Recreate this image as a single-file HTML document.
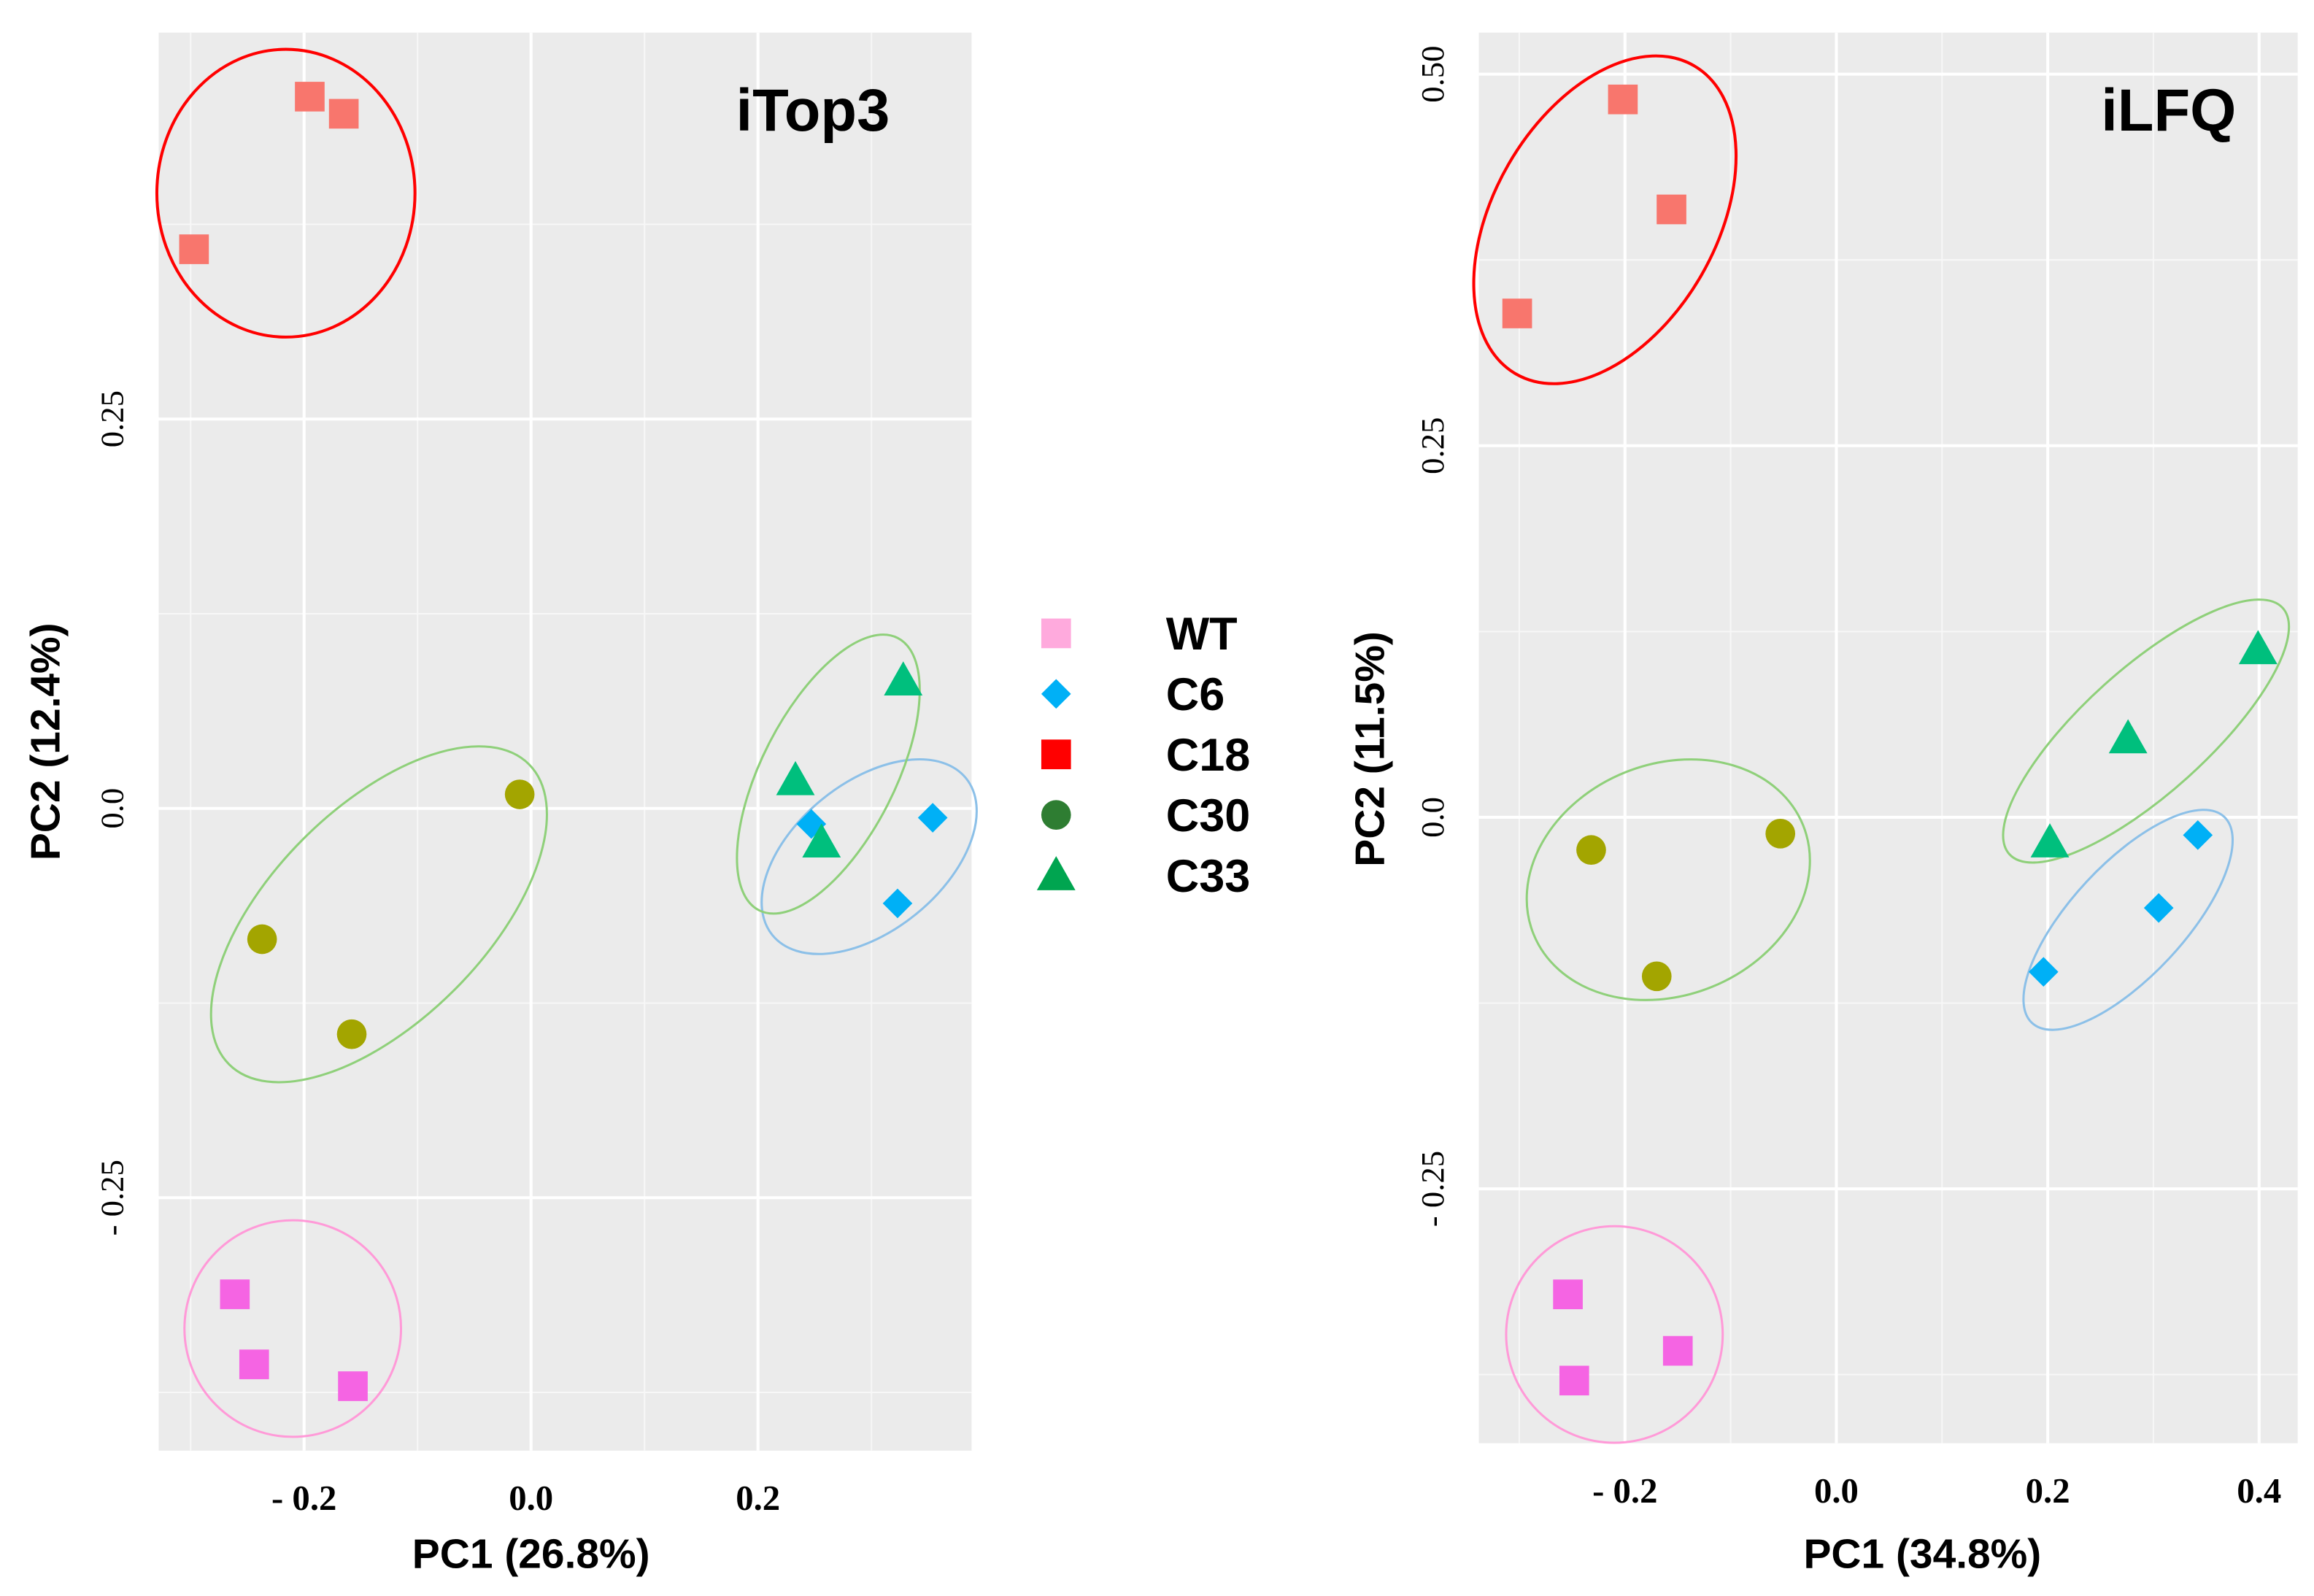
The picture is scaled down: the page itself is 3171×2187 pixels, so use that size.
<!DOCTYPE html>
<html><head><meta charset="utf-8"><style>
html,body{margin:0;padding:0;background:#fff}
svg{display:block}
text{font-family:"Liberation Sans",sans-serif}
</style></head><body>
<svg id="fig" width="3171" height="2187" viewBox="0 0 1560 1076" preserveAspectRatio="none" xmlns="http://www.w3.org/2000/svg"></svg>
<script>
// ---- Data: iTop3 (left panel) ----
const groups = ["WT","C6","C18","C30","C33"];
const top3_WT_x = [-0.261,-0.244,-0.157];
const top3_WT_y = [-0.312,-0.357,-0.371];
const top3_C6_x = [0.247,0.354,0.323];
const top3_C6_y = [-0.010,-0.006,-0.061];
const top3_C18_x = [-0.195,-0.165,-0.297];
const top3_C18_y = [0.457,0.446,0.359];
const top3_C30_x = [-0.010,-0.237,-0.158];
const top3_C30_y = [0.009,-0.084,-0.145];
const top3_C33_x = [0.328,0.233,0.256];
const top3_C33_y = [0.082,0.018,-0.022];
// ---- Data: iLFQ (right panel) ----
const lfq_WT_x = [-0.254,-0.248,-0.150];
const lfq_WT_y = [-0.321,-0.379,-0.359];
const lfq_C6_x = [0.342,0.305,0.196];
const lfq_C6_y = [-0.012,-0.061,-0.104];
const lfq_C18_x = [-0.202,-0.156,-0.302];
const lfq_C18_y = [0.483,0.409,0.339];
const lfq_C30_x = [-0.232,-0.053,-0.170];
const lfq_C30_y = [-0.022,-0.011,-0.107];
const lfq_C33_x = [0.399,0.276,0.202];
const lfq_C33_y = [0.113,0.053,-0.017];
// ellipse centres (data units)
const top3_ell_cx = [-0.210,0.298,-0.216,-0.134,0.262];
const top3_ell_cy = [-0.334,-0.031,0.395,-0.068,0.022];
const lfq_ell_cx = [-0.210,0.276,-0.219,-0.159,0.293];
const lfq_ell_cy = [-0.348,-0.069,0.402,-0.042,0.058];
// tick labels
const top3_xticks = [-0.2,0,0.2];
const top3_xticklabels = ["- 0.2","0.0","0.2"];
const top3_yticks = [-0.25,0,0.25];
const top3_yticklabels = ["- 0.25","0.0","0.25"];
const lfq_xticks = [-0.2,0,0.2,0.4];
const lfq_xticklabels = ["- 0.2","0.0","0.2","0.4"];
const lfq_yticks = [-0.25,0,0.25,0.5];
const lfq_yticklabels = ["- 0.25","0.0","0.25","0.50"];

const NS="http://www.w3.org/2000/svg";
const svg=document.getElementById('fig');
function mk(tag,attrs,parent){const e=document.createElementNS(NS,tag);for(const k in attrs)e.setAttribute(k,attrs[k]);(parent||svg).appendChild(e);return e;}
const colors={WT:"#f564e3",C6:"#00b0f6",C18:"#f8766d",C30:"#a3a500",C33:"#00bf7d"};
const ellColors={WT:"#ff9ad8",C6:"#8cc0e8",C18:"#ff0000",C30:"#8fd07a",C33:"#8fd07a"};

function marker(g,type,px,py,color){
  let e;
  if(type==="WT"||type==="C18"){e=mk('rect',{x:px-10,y:py-10,width:20,height:20,fill:color},g);}
  else if(type==="C6"){e=mk('polygon',{points:`${px},${py-10} ${px+10},${py} ${px},${py+10} ${px-10},${py}`,fill:color},g);}
  else if(type==="C30"){e=mk('ellipse',{cx:px,cy:py,rx:10,ry:10,fill:color},g);}
  else {e=mk('polygon',{points:`${px},${py-13} ${px+13},${py+10} ${px-13},${py+10}`,fill:color},g);}
  return e;
}

function panel(cfg){
  const g=mk('g',{});
  
  
  const X=v=>cfg.x0+cfg.sx*v, Y=v=>cfg.y0-cfg.sy*v;
  const bg=mk('rect',{x:cfg.L,y:cfg.T,width:cfg.R-cfg.L,height:cfg.B-cfg.T,fill:"#ebebeb"},g);
  
  
  cfg.xminor.forEach(v=>mk('line',{x1:X(v),x2:X(v),y1:cfg.T,y2:cfg.B,stroke:"#f7f7f7","stroke-width":1},g));
  cfg.yminor.forEach(v=>mk('line',{y1:Y(v),y2:Y(v),x1:cfg.L,x2:cfg.R,stroke:"#f7f7f7","stroke-width":1},g));
  cfg.xt.forEach((v,i)=>{
    mk('line',{x1:X(v),x2:X(v),y1:cfg.T,y2:cfg.B,stroke:"#fff","stroke-width":2},g);
    const t=mk('text',{x:X(v),y:cfg.B+40,"text-anchor":"middle","font-size":24,"font-weight":"bold",style:"font-family:'Liberation Serif',serif"},g);
    t.textContent=cfg.xl[i];
    
    
  });
  cfg.yt.forEach((v,i)=>{
    mk('line',{y1:Y(v),y2:Y(v),x1:cfg.L,x2:cfg.R,stroke:"#fff","stroke-width":2},g);
    const t=mk('text',{x:0,y:0,"text-anchor":"middle","font-size":22,transform:`translate(${cfg.L-24},${Y(v)}) rotate(-90)`,style:"font-family:'Liberation Serif',serif"},g);
    t.textContent=cfg.yl[i];
    
    
  });
  groups.forEach((gr,i)=>{
    const e=cfg.ell[i];
    const el=mk('ellipse',{cx:0,cy:0,rx:e[0],ry:e[1],fill:"none",stroke:ellColors[gr],"stroke-width":gr==="C18"?2:1.5,transform:`translate(${X(cfg.ecx[i])},${Y(cfg.ecy[i])}) rotate(${e[2]})`},g);
    
    
  });
  groups.forEach(gr=>{
    const xs=cfg.data[gr][0], ys=cfg.data[gr][1];
    xs.forEach((v,i)=>{
      const m=marker(g,gr,X(v),Y(ys[i]),colors[gr]);
      
      
    });
  });
  const tt=mk('text',{x:cfg.titleX,y:88,"text-anchor":"middle","font-size":40,"font-weight":"bold"},g);
  tt.textContent=cfg.title;
  
  
  const xa=mk('text',{x:cfg.xtitleX,y:1057,"text-anchor":"middle","font-size":28,"font-weight":"bold"},g);
  xa.textContent=cfg.xtitle;
  
  
  const ya=mk('text',{x:0,y:0,"text-anchor":"middle","font-size":28,"font-weight":"bold",transform:`translate(${cfg.ytitleX},${cfg.ytitleY}) rotate(-90)`},g);
  ya.textContent=cfg.ytitle;
  
  
}

panel({name:'itop3-panel',L:107,R:655,T:22,B:978,x0:358,sx:765,y0:545,sy:1050,
  xminor:[-0.3,-0.1,0.1,0.3],yminor:[-0.375,-0.125,0.125,0.375],
  xt:top3_xticks,xl:top3_xticklabels,yt:top3_yticks,yl:top3_yticklabels,
  ecx:top3_ell_cx,ecy:top3_ell_cy,
  ell:[[73,73,0],[84,50,-39],[87,97,0],[143,72,-45],[103,45,-63]],
  data:{WT:[top3_WT_x,top3_WT_y],C6:[top3_C6_x,top3_C6_y],C18:[top3_C18_x,top3_C18_y],C30:[top3_C30_x,top3_C30_y],C33:[top3_C33_x,top3_C33_y]},
  title:'iTop3',titleX:548,xtitle:'PC1 (26.8%)',xtitleX:358,ytitle:'PC2 (12.4%)',ytitleX:40,ytitleY:500});

panel({name:'ilfq-panel',L:997,R:1549,T:22,B:973,x0:1238,sx:712.5,y0:551,sy:1002,
  xminor:[-0.3,-0.1,0.1,0.3],yminor:[-0.375,-0.125,0.125,0.375],
  xt:lfq_xticks,xl:lfq_xticklabels,yt:lfq_yticks,yl:lfq_yticklabels,
  ecx:lfq_ell_cx,ecy:lfq_ell_cy,
  ell:[[73,73,0],[95,38,-47],[120,75,-60],[98,78,-22],[124,42,-42]],
  data:{WT:[lfq_WT_x,lfq_WT_y],C6:[lfq_C6_x,lfq_C6_y],C18:[lfq_C18_x,lfq_C18_y],C30:[lfq_C30_x,lfq_C30_y],C33:[lfq_C33_x,lfq_C33_y]},
  title:'iLFQ',titleX:1462,xtitle:'PC1 (34.8%)',xtitleX:1296,ytitle:'PC2 (11.5%)',ytitleX:933,ytitleY:505});

const legColors={WT:"#ffaadd",C6:"#00b0f6",C18:"#ff0000",C30:"#2e7d32",C33:"#00a550"};
const lg=mk('g',{});


groups.forEach((gr,i)=>{
  const y=427+i*40.8;
  const m=marker(lg,gr,712,y,legColors[gr]);
  
  
  const t=mk('text',{x:786,y:y+11,"font-size":31,"font-weight":"bold"},lg);
  t.textContent=gr;
  
  
});
</script>
</body></html>
